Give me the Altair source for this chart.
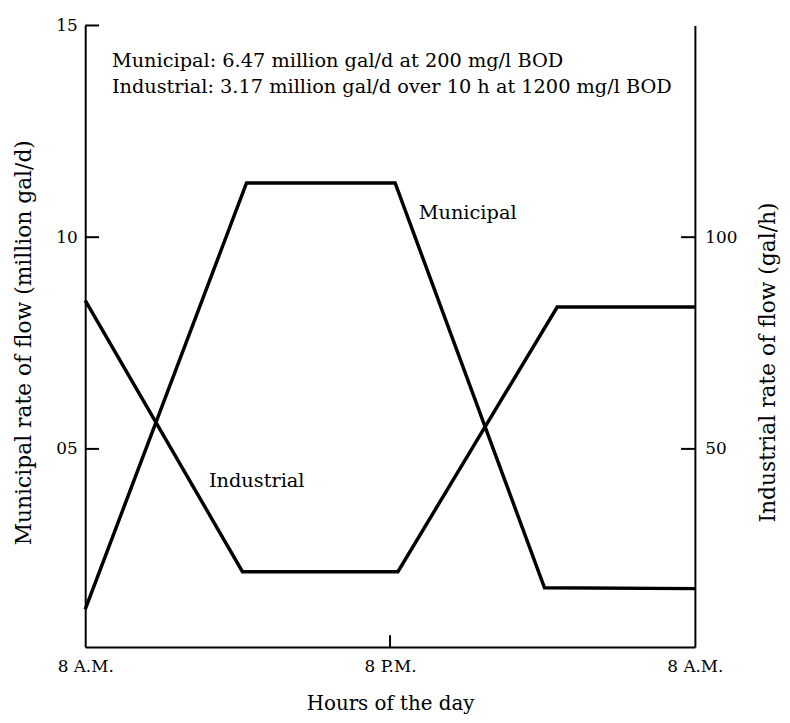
import json
import altair as alt
import pandas as pd

# ---------------- data ----------------
hours_municipal = [0, 6.35, 12.2, 18.08, 24]
municipal_flow = [1.21, 11.28, 11.28, 1.72, 1.70]          # million gal/d (left axis)

hours_industrial = [0, 6.19, 12.31, 18.58, 24]
industrial_flow = [85.1, 21.0, 21.0, 83.5, 83.5]           # gal/h (right axis)

left_ticks = [5, 10, 15]
left_tick_labels = ["05", "10", "15"]
right_ticks = [50, 100]
x_ticks = [0, 12, 24]
x_tick_labels = ["8 A.M.", "8 P.M.", "8 A.M."]

note_lines = [
    "Municipal: 6.47 million gal/d at 200 mg/l BOD",
    "Industrial: 3.17 million gal/d over 10 h at 1200 mg/l BOD",
]
note_x = [1.05, 1.05]
note_y = [14.02, 13.41]

series_labels = ["Municipal", "Industrial"]
series_label_x = [13.13, 4.87]
series_label_y = [10.42, 4.11]

FONT = "DejaVu Serif"
W, H = 616, 628

# ---------------- tables ----------------
mun_df = pd.DataFrame({"h": hours_municipal, "v": municipal_flow})
ind_df = pd.DataFrame({"h": hours_industrial, "v": industrial_flow})
note_df = pd.DataFrame({"h": note_x, "v": note_y, "t": note_lines})
lab_df = pd.DataFrame({"h": series_label_x, "v": series_label_y, "t": series_labels})
lt_df = pd.DataFrame({"v": left_ticks})
rt_df = pd.DataFrame({"v": right_ticks})
xt_df = pd.DataFrame({"h": [x_ticks[1]]})

x_scale = alt.Scale(domain=[0, 24], nice=False, zero=False)
left_scale = alt.Scale(domain=[0.32, 15], nice=False, zero=False)
right_scale = alt.Scale(domain=[3.2, 150], nice=False, zero=False)

x_label_expr = f"{json.dumps(x_tick_labels)}[indexof({json.dumps(x_ticks)}, datum.value)]"
left_label_expr = f"{json.dumps(left_tick_labels)}[indexof({json.dumps(left_ticks)}, datum.value)]"


def x_enc():
    return alt.X(
        "h:Q",
        scale=x_scale,
        axis=alt.Axis(
            values=x_ticks,
            labelExpr=x_label_expr,
            labelFontSize=17,
            ticks=False,
            grid=False,
            labelPadding=12,
            labelFlush=False,
            title="Hours of the day",
            titleY=63,
            titleBaseline="alphabetic",
            titleFontSize=20,
        ),
    )


mun_line = alt.Chart(mun_df).mark_line(color="black", strokeWidth=3.5, strokeJoin="miter").encode(
    x=x_enc(),
    y=alt.Y(
        "v:Q",
        scale=left_scale,
        axis=alt.Axis(
            values=left_ticks,
            labelExpr=left_label_expr,
            ticks=False,
            grid=False,
            labelPadding=8,
            title="Municipal rate of flow (million gal/d)",
            titleX=-62,
            titleY=320,
            titleAngle=270,
            titleBaseline="middle",
            titleAlign="center",
        ),
    ),
)

ind_line = alt.Chart(ind_df).mark_line(color="black", strokeWidth=3.5, strokeJoin="miter").encode(
    x=x_enc(),
    y=alt.Y(
        "v:Q",
        scale=right_scale,
        axis=alt.Axis(
            orient="right",
            values=right_ticks,
            ticks=False,
            grid=False,
            labelPadding=10,
            title="Industrial rate of flow (gal/h)",
            titleX=73,
            titleY=340,
            titleAngle=270,
            titleBaseline="middle",
            titleAlign="center",
        ),
    ),
)

left_tick_marks = alt.Chart(lt_df).mark_rule(color="black", strokeWidth=2).encode(
    y=alt.Y("v:Q", scale=left_scale, axis=None),
    x=alt.value(0),
    x2=alt.value(14),
)

right_tick_marks = alt.Chart(rt_df).mark_rule(color="black", strokeWidth=2).encode(
    y=alt.Y("v:Q", scale=right_scale, axis=None),
    x=alt.value(W - 14),
    x2=alt.value(W),
)

x_tick_marks = alt.Chart(xt_df).mark_rule(color="black", strokeWidth=2).encode(
    x=x_enc(),
    y=alt.value(H - 12),
    y2=alt.value(H),
)

notes = alt.Chart(note_df).mark_text(
    align="left", baseline="alphabetic", font=FONT, fontSize=19.5, color="black"
).encode(
    x=x_enc(),
    y=alt.Y("v:Q", scale=left_scale, axis=None),
    text="t:N",
)

labels = alt.Chart(lab_df).mark_text(
    align="left", baseline="alphabetic", font=FONT, fontSize=19.5, color="black"
).encode(
    x=x_enc(),
    y=alt.Y("v:Q", scale=left_scale, axis=None),
    text="t:N",
)

chart = (
    alt.layer(mun_line, ind_line, left_tick_marks, right_tick_marks, x_tick_marks, notes, labels)
    .resolve_scale(y="independent")
    .properties(
        width=W,
        height=H,
        autosize=alt.AutoSizeParams(type="none"),
        padding={"left": 78, "top": 14, "right": 88, "bottom": 65},
        background="white",
    )
    .configure_view(stroke=None)
    .configure_axis(
        domainColor="black",
        domainWidth=2,
        labelFont=FONT,
        labelFontSize=17,
        labelColor="black",
        titleFont=FONT,
        titleFontSize=22,
        titleFontWeight="normal",
        titleColor="black",
    )
)

chart.save("out.html", embed_options={"renderer": "svg", "actions": False})
